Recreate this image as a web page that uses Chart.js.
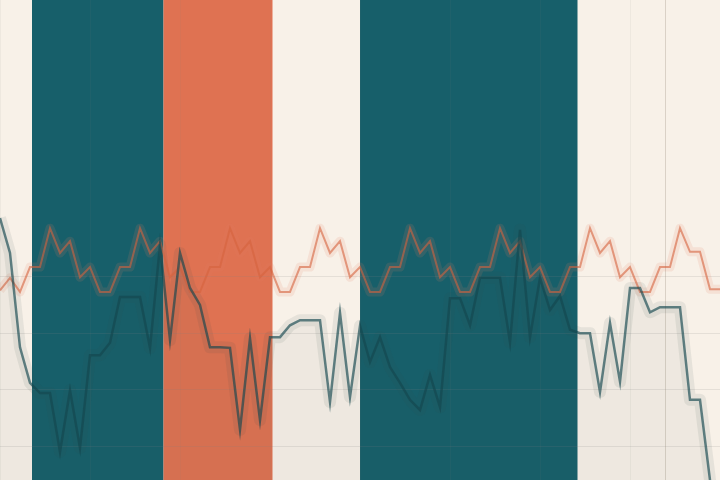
<!DOCTYPE html>
<html>
<head>
<meta charset="utf-8">
<script src="https://cdn.jsdelivr.net/npm/chart.js@4.4.1/dist/chart.umd.min.js"></script>
<style>
  html, body { margin: 0; padding: 0; background: #f8f1e8; }
  #wrap { width: 720px; height: 480px; overflow: hidden; }
</style>
</head>
<body>
<div id="wrap"><canvas id="chart" width="720" height="480"></canvas></div>
<script>
// Series, one point every step
const orangeValues = [
  27.6, 29.8, 27.3, 31.7, 31.7, 38.6, 34.2, 36.3, 29.9, 31.7,
  27.3, 27.3, 31.7, 31.7, 38.6, 34.2, 36.3, 29.9, 31.7, 27.3,
  27.3, 31.7, 31.7, 38.6, 34.2, 36.3, 29.9, 31.7, 27.3, 27.3,
  31.7, 31.7, 38.6, 34.2, 36.3, 29.9, 31.7, 27.3, 27.3, 31.7,
  31.7, 38.6, 34.2, 36.3, 29.9, 31.7, 27.3, 27.3, 31.7, 31.7,
  38.6, 34.2, 36.3, 29.9, 31.7, 27.3, 27.3, 31.7, 31.7, 38.6,
  34.2, 36.3, 29.9, 31.7, 27.3, 27.3, 31.7, 31.7, 38.6, 34.4,
  34.4, 27.8, 27.8
];
const tealValues = [
  40.4, 34.2, 17.5, 11.2, 9.4, 9.4, -1.0, 9.9, -0.3, 16.1,
  16.1, 18.3, 26.4, 26.4, 26.4, 17.4, 35.6, 18.8, 34.2, 28.0,
  25.0, 17.5, 17.5, 17.4, 2.9, 19.1, 4.6, 19.3, 19.3, 21.4,
  22.3, 22.3, 22.3, 7.8, 23.6, 8.7, 21.3, 14.9, 19.3, 14.0,
  11.2, 8.2, 6.4, 12.6, 6.9, 26.2, 26.2, 21.4, 29.8, 29.8,
  29.8, 18.4, 38.3, 19.3, 29.8, 24.1, 26.6, 20.6, 20.0, 20.0,
  9.6, 21.8, 11.4, 28.0, 28.0, 23.7, 24.6, 24.6, 24.6, 8.2,
  8.2, -6.0, -20.2
];
const steps = tealValues.map((_, i) => i);

// Shaded periods (in steps) and their colours
const bandFrom = [3.2, 16.35, 36];
const bandTo = [16.35, 27.25, 57.75];
const bandColors = ['#175f6a', '#df7252', '#175f6a'];
const markerAt = 66.5;

const backdrop = {
    id: 'backdrop',
    beforeDraw(chart) {
        const { ctx, chartArea: a, scales: { x } } = chart;
        ctx.save();
        ctx.fillStyle = '#f8f1e8';
        ctx.fillRect(0, 0, chart.width, chart.height);
        bandFrom.forEach((from, i) => {
            const left = x.getPixelForValue(from);
            const right = x.getPixelForValue(bandTo[i]);
            ctx.fillStyle = bandColors[i];
            ctx.fillRect(left, a.top, right - left, a.bottom - a.top);
        });
        ctx.restore();
    },
    beforeDatasetsDraw(chart) {
        const { ctx, chartArea: a, scales: { x } } = chart;
        const px = Math.round(x.getPixelForValue(markerAt)) + 0.5;
        ctx.save();
        ctx.strokeStyle = 'rgba(150, 135, 120, 0.3)';
        ctx.lineWidth = 1;
        ctx.beginPath();
        ctx.moveTo(px, a.top);
        ctx.lineTo(px, a.bottom);
        ctx.stroke();
        ctx.restore();
    }
};

const ctx = document.getElementById('chart').getContext('2d');
new Chart(ctx, {
    type: 'line',
    data: {
        labels: steps,
        datasets: [
            {
                data: tealValues,
                borderColor: 'rgba(20, 70, 78, 0.65)',
                borderWidth: 2.5,
                fill: 'start',
                backgroundColor: 'rgba(60, 70, 70, 0.05)',
                pointRadius: 0,
                tension: 0,
                order: 1
            },
            {
                data: orangeValues,
                borderColor: 'rgba(214, 98, 62, 0.6)',
                borderWidth: 2,
                fill: false,
                pointRadius: 0,
                tension: 0,
                order: 2
            },
            {
                // soft halo under the teal line
                data: tealValues,
                borderColor: 'rgba(60, 80, 80, 0.09)',
                borderWidth: 12,
                borderJoinStyle: 'round',
                fill: false,
                pointRadius: 0,
                tension: 0,
                order: 3
            },
            {
                // soft halo under the orange line
                data: orangeValues,
                borderColor: 'rgba(230, 130, 100, 0.14)',
                borderWidth: 9,
                borderJoinStyle: 'round',
                fill: false,
                pointRadius: 0,
                tension: 0,
                order: 4
            }
        ]
    },
    options: {
        responsive: false,
        animation: false,
        layout: { padding: 0 },
        plugins: {
            legend: { display: false },
            tooltip: { enabled: false }
        },
        scales: {
            x: {
                type: 'linear',
                min: 0,
                max: 72,
                offset: false,
                border: { display: false },
                ticks: { display: false, stepSize: 9 },
                grid: { color: 'rgba(128, 128, 128, 0.08)', drawTicks: false },
                afterFit: s => { s.height = 0; }
            },
            y: {
                min: -6,
                max: 79,
                border: { display: false },
                ticks: { display: false, stepSize: 10 },
                grid: {
                    color: c => (c.tick && c.tick.value >= 0 && c.tick.value <= 30)
                        ? 'rgba(128, 128, 128, 0.16)' : 'rgba(0, 0, 0, 0)',
                    drawTicks: false
                },
                afterFit: s => { s.width = 0; }
            }
        }
    },
    plugins: [backdrop]
});
</script>
</body>
</html>
